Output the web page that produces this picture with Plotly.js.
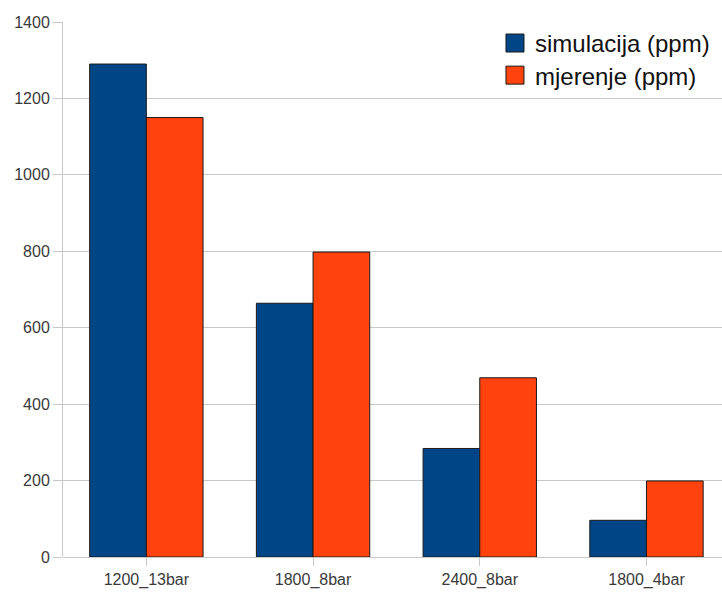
<!DOCTYPE html>
<html><head><meta charset="utf-8">
<script src="https://cdn.plot.ly/plotly-3.0.1.min.js"></script>
<style>html,body{margin:0;padding:0;background:#fff;overflow:hidden}</style>
</head><body><div id="chart" style="width:722px;height:615px"></div>
<script>
const categories = ["1200_13bar", "1800_8bar", "2400_8bar", "1800_4bar"];
const simulacija = [1290, 664, 284, 96];
const mjerenje = [1150, 798, 469, 199];
const seriesNames = ["simulacija (ppm)", "mjerenje (ppm)"];
const yTicks = [0, 200, 400, 600, 800, 1000, 1200, 1400];

const traces = [
  {type: "bar", x: categories, y: simulacija, name: seriesNames[0], legend: "legend",
   marker: {color: "#004586", line: {color: "#1a1a1a", width: 1}}},
  {type: "bar", x: categories, y: mjerenje, name: seriesNames[1], legend: "legend2",
   marker: {color: "#ff420e", line: {color: "#1a1a1a", width: 1}}}
];
const legStyle = {xanchor: "left", yanchor: "top", bgcolor: "rgba(0,0,0,0)",
  font: {size: 24, color: "#111"}};
const layout = {
  width: 722, height: 615,
  margin: {l: 63, r: 0, t: 22, b: 58},
  paper_bgcolor: "#fff", plot_bgcolor: "#fff",
  font: {family: "Liberation Sans, Arial, sans-serif", color: "#3a3a3a", size: 16},
  barmode: "group", bargap: 0.32, bargroupgap: 0,
  showlegend: true,
  legend: Object.assign({x: 0.6555, y: 1.002}, legStyle),
  legend2: Object.assign({x: 0.6555, y: 0.942}, legStyle),
  xaxis: {type: "category", range: [-0.5, 3.453], showgrid: false, zeroline: false,
    ticks: "outside", ticklen: 8, tickcolor: "#c8c8c8", showline: false,
    tickfont: {size: 16, color: "#3a3a3a"}},
  yaxis: {range: [0, 1400], tickvals: yTicks, showgrid: true, gridcolor: "#c8c8c8", gridwidth: 1,
    zeroline: true, zerolinecolor: "#c8c8c8", showline: true, linecolor: "#c8c8c8",
    ticks: "outside", ticklen: 9, tickcolor: "#c8c8c8", tickfont: {size: 16, color: "#3a3a3a"}}
};
Plotly.newPlot("chart", traces, layout, {displayModeBar: false, staticPlot: true}).then(function(gd){
  gd.querySelectorAll(".legendpoints path").forEach(function(p){
    p.setAttribute("d", "M9,9H-9V-9H9Z");
    p.style.strokeWidth = "1px";
    p.style.stroke = "#1a1a1a";
  });
});
</script></body></html>
